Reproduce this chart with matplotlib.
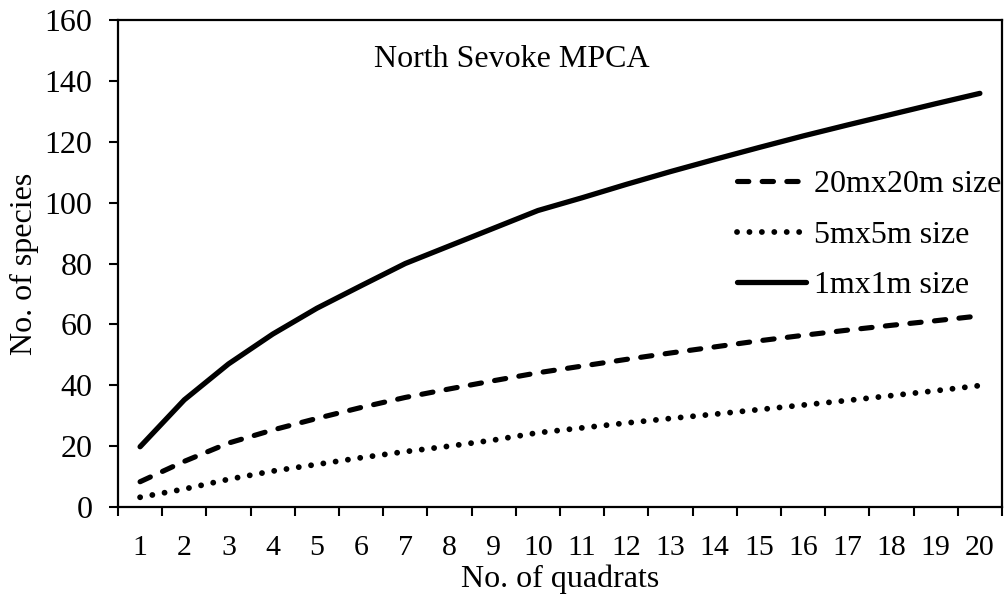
import numpy as np
import matplotlib
matplotlib.use("Agg")
import matplotlib.pyplot as plt

plt.rcParams['font.family'] = ['Liberation Serif', 'DejaVu Serif']

quadrats = [str(i) for i in range(1, 21)]
size_20m = [8.3, 15, 21, 25.3, 29.1, 32.7, 36, 38.8, 41.5, 44.1,
            46.3, 48.5, 50.6, 52.6, 54.6, 56.4, 58.1, 59.7, 61.2, 62.8]
size_5m = [3.2, 5.9, 9.1, 11.8, 14, 16.2, 18.2, 20, 22, 24.4,
           26, 27.6, 29.1, 30.5, 32, 33.5, 35, 36.6, 38.2, 39.9]
size_1m = [19.8, 35.2, 47, 56.8, 65.3, 72.7, 80, 85.8, 91.6, 97.4,
           101.6, 106, 110.2, 114.2, 118.1, 121.9, 125.5, 129, 132.5, 135.9]

fig = plt.figure(figsize=(10.05, 6.01), dpi=100)
ax = fig.add_axes([0.1174, 0.1564, 0.8796, 0.8103])

x = np.arange(len(quadrats)) + 0.5
ax.plot(x, size_20m, color='black', lw=3.7, dashes=(2.2, 2.6),
        dash_capstyle='round', label='20mx20m size')
ax.plot(x, size_5m, color='black', lw=4.2, dashes=(0.01, 2.12),
        dash_capstyle='round', label='5mx5m size')
ax.plot(x, size_1m, color='black', lw=3.8, solid_capstyle='round',
        label='1mx1m size')

ax.set_xlim(0, len(quadrats))
ax.set_ylim(0, 160)
ax.set_yticks(np.arange(0, 161, 20))

# category axis: tick marks between categories, labels at centres
ax.set_xticks(np.arange(0, len(quadrats) + 1))
ax.set_xticklabels([])
ax.set_xticks(x, minor=True)
ax.set_xticklabels(quadrats, minor=True)
ax.tick_params(axis='x', which='minor', length=0, pad=20, labelsize=21.5)
ax.tick_params(axis='x', which='major', direction='out', length=6.5, width=1.5)
ax.tick_params(axis='y', direction='out', length=6.5, width=1.5, pad=12,
               labelsize=23)

for s in ax.spines.values():
    s.set_linewidth(1.6)

ax.set_xlabel('No. of quadrats', fontsize=23, labelpad=3)
ax.set_ylabel('No. of species', fontsize=23, labelpad=4)

ax.text(0.446, 0.9035, 'North Sevoke MPCA', transform=ax.transAxes,
        ha='center', va='baseline', fontsize=23)

ax.legend(loc='center left', bbox_to_anchor=(0.70, 0.5585), frameon=False,
          fontsize=23, handlelength=2.17, handletextpad=0.25,
          labelspacing=0.67, borderpad=0, borderaxespad=0)

fig.savefig('out.png', dpi=100)
